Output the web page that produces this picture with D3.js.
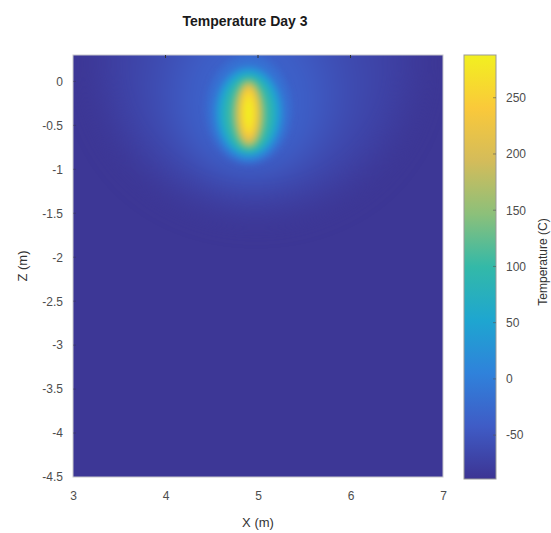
<!DOCTYPE html>
<html>
<head>
<meta charset="utf-8">
<script src="https://cdn.jsdelivr.net/npm/d3@7.9.0/dist/d3.min.js"></script>
<style>
  body { margin: 0; background: #fff; }
  text { font-family: "Liberation Sans", Arial, sans-serif; }
</style>
</head>
<body>
<svg id="chart" width="551" height="533"></svg>
<script>
// Chart data
const xTicks = [3, 4, 5, 6, 7];
const zTicks = [0, -0.5, -1, -1.5, -2, -2.5, -3, -3.5, -4, -4.5];
const cbTicks = [-50, 0, 50, 100, 150, 200, 250];
const xDomain = [3, 7];
const zDomain = [-4.5, 0.3];
const tempDomain = [-89, 288];
const backgroundTemp = -86;

// isotherm levels, outermost first: temperature, centre x, half width, centre z, half height
const isoTemp = [-77, -69, -59, -47, -34, -18, 12, 52, 95, 150, 200, 245, 272, 286];
const isoCX   = [4.98, 4.96, 4.94, 4.92, 4.91, 4.9, 4.9, 4.9, 4.9, 4.9, 4.9, 4.9, 4.9, 4.9];
const isoRX   = [1.72, 1.45, 1.15, 0.88, 0.64, 0.46, 0.38, 0.335, 0.27, 0.18, 0.13, 0.095, 0.065, 0.035];
const isoCZ   = [0.2, 0.08, -0.04, -0.14, -0.24, -0.32, -0.36, -0.36, -0.37, -0.37, -0.37, -0.36, -0.36, -0.36];
const isoRZ   = [1.7, 1.45, 1.18, 0.96, 0.78, 0.62, 0.54, 0.49, 0.44, 0.39, 0.34, 0.29, 0.22, 0.13];

// parula-like colours as they look in the picture
const parula = ['#3d3493', '#3f5cc6', '#2f82db', '#1ea6d0', '#33b9a8', '#8cc07a', '#d4bc5a', '#fac93a', '#f2f020'];

const svg = d3.select('#chart');
const margin = { left: 73, right: 443, top: 55, bottom: 477 };

const x = d3.scaleLinear().domain(xDomain).range([margin.left, margin.right]);
const z = d3.scaleLinear().domain(zDomain).range([margin.bottom, margin.top]);

const color = d3.scaleLinear()
    .domain(parula.map((_, i) => tempDomain[0] + i * (tempDomain[1] - tempDomain[0]) / (parula.length - 1)))
    .range(parula)
    .clamp(true);

const defs = svg.append('defs');
defs.append('clipPath').attr('id', 'plotClip')
    .append('rect')
    .attr('x', margin.left).attr('y', margin.top)
    .attr('width', margin.right - margin.left).attr('height', margin.bottom - margin.top);

// blur filters smooth the isotherm bands into a continuous field
defs.append('filter').attr('id', 'blurWide')
    .attr('color-interpolation-filters', 'sRGB')
    .attr('x', '-50%').attr('y', '-50%').attr('width', '200%').attr('height', '200%')
    .append('feGaussianBlur').attr('stdDeviation', 15);
defs.append('filter').attr('id', 'blurTight')
    .attr('color-interpolation-filters', 'sRGB')
    .attr('x', '-50%').attr('y', '-50%').attr('width', '200%').attr('height', '200%')
    .append('feGaussianBlur').attr('stdDeviation', 3);

// Field
const field = svg.append('g').attr('clip-path', 'url(#plotClip)');
field.append('rect')
    .attr('x', margin.left).attr('y', margin.top)
    .attr('width', margin.right - margin.left).attr('height', margin.bottom - margin.top)
    .attr('fill', color(backgroundTemp));

const levels = isoTemp.map((t, i) => ({ t, cx: isoCX[i], rx: isoRX[i], cz: isoCZ[i], rz: isoRZ[i] }));
const halo = levels.filter(d => d.t < -25);
const core = levels.filter(d => d.t >= -25);

function drawLevels(g, data) {
    g.selectAll('ellipse')
        .data(data)
        .join('ellipse')
        .attr('cx', d => x(d.cx))
        .attr('cy', d => z(d.cz))
        .attr('rx', d => x(d.cx + d.rx) - x(d.cx))
        .attr('ry', d => z(d.cz - d.rz) - z(d.cz))
        .attr('fill', d => color(d.t));
}
drawLevels(field.append('g').attr('filter', 'url(#blurWide)'), halo);
drawLevels(field.append('g').attr('filter', 'url(#blurTight)'), core);

// Axes
const tickColor = '#4d4d4d';
const xAxis = svg.append('g')
    .attr('transform', `translate(0,${margin.bottom})`)
    .call(d3.axisBottom(x).tickValues(xTicks).tickSize(0).tickPadding(14).tickFormat(d => d));
const zAxis = svg.append('g')
    .attr('transform', `translate(${margin.left},0)`)
    .call(d3.axisLeft(z).tickValues(zTicks).tickSize(0).tickPadding(10).tickFormat(d => d));
[xAxis, zAxis].forEach(a => {
    a.select('.domain').remove();
    a.selectAll('text').attr('fill', tickColor).style('font-size', '12px');
});

// plot box and inward ticks
svg.append('rect')
    .attr('x', margin.left).attr('y', margin.top)
    .attr('width', margin.right - margin.left).attr('height', margin.bottom - margin.top)
    .attr('fill', 'none').attr('stroke', '#c8c8cc').attr('stroke-width', 1);
svg.append('g').selectAll('line').data(xTicks.slice(1, -1)).join('line')
    .attr('x1', d => x(d)).attr('x2', d => x(d))
    .attr('y1', margin.top).attr('y2', margin.top + 3)
    .attr('stroke', '#333').attr('stroke-width', 1);
svg.append('g').selectAll('line').data(zTicks.slice(0, -1)).join('line')
    .attr('x1', margin.left).attr('x2', margin.left + 3)
    .attr('y1', d => z(d)).attr('y2', d => z(d))
    .attr('stroke', '#333').attr('stroke-width', 1).attr('opacity', 0.35);

// Labels
svg.append('text')
    .attr('x', 245).attr('y', 26)
    .attr('text-anchor', 'middle')
    .style('font-size', '14px').style('font-weight', 'bold')
    .attr('fill', '#1a1a1a')
    .text('Temperature Day 3');
svg.append('text')
    .attr('x', (margin.left + margin.right) / 2).attr('y', 527)
    .attr('text-anchor', 'middle')
    .style('font-size', '13px')
    .attr('fill', '#333')
    .text('X (m)');
svg.append('text')
    .attr('transform', `translate(27,${(margin.top + margin.bottom) / 2}) rotate(-90)`)
    .attr('text-anchor', 'middle')
    .style('font-size', '13px')
    .attr('fill', '#333')
    .text('Z (m)');

// Colorbar
const cb = { left: 464, right: 496, top: 55, bottom: 479 };
const cbScale = d3.scaleLinear().domain(tempDomain).range([cb.bottom, cb.top]);
const grad = defs.append('linearGradient').attr('id', 'cbGrad')
    .attr('x1', 0).attr('y1', 1).attr('x2', 0).attr('y2', 0);
grad.selectAll('stop').data(color.domain()).join('stop')
    .attr('offset', d => (d - tempDomain[0]) / (tempDomain[1] - tempDomain[0]))
    .attr('stop-color', d => color(d));
svg.append('rect')
    .attr('x', cb.left).attr('y', cb.top)
    .attr('width', cb.right - cb.left).attr('height', cb.bottom - cb.top)
    .attr('fill', 'url(#cbGrad)')
    .attr('stroke', '#999').attr('stroke-width', 1);
svg.append('g').selectAll('line').data(cbTicks).join('line')
    .attr('x1', cb.right - 3).attr('x2', cb.right)
    .attr('y1', d => cbScale(d)).attr('y2', d => cbScale(d))
    .attr('stroke', '#555').attr('stroke-width', 1).attr('opacity', 0.6);
const cbAxis = svg.append('g')
    .attr('transform', `translate(${cb.right},0)`)
    .call(d3.axisRight(cbScale).tickValues(cbTicks).tickSize(0).tickPadding(10).tickFormat(d => d));
cbAxis.select('.domain').remove();
cbAxis.selectAll('text').attr('fill', tickColor).style('font-size', '12px');
svg.append('text')
    .attr('transform', `translate(547,262) rotate(-90)`)
    .attr('text-anchor', 'middle')
    .style('font-size', '12px')
    .attr('fill', '#333')
    .text('Temperature (C)');
</script>
</body>
</html>
